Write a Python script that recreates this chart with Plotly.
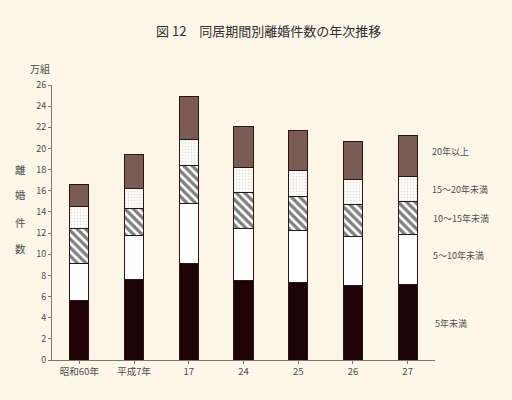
import plotly.graph_objects as go

categories = ["昭和60年", "平成7年", "17", "24", "25", "26", "27"]
lt5 = [5.6, 7.65, 9.08, 7.56, 7.37, 7.0, 7.15]
y5_10 = [3.55, 4.1, 5.75, 4.88, 4.86, 4.66, 4.7]
y10_15 = [3.25, 2.6, 3.52, 3.38, 3.27, 3.08, 3.15]
y15_20 = [2.15, 1.85, 2.5, 2.39, 2.4, 2.34, 2.39]
ge20 = [2.05, 3.2, 4.05, 3.85, 3.8, 3.62, 3.88]
series_names = ["5年未満", "5～10年未満", "10～15年未満", "15～20年未満", "20年以上"]
yticks = list(range(0, 27, 2))

BG = "#fdf6e9"
FONT = "Noto Sans CJK JP"
TXT = "#4d4d4d"
LINE = "#2a1414"

fig = go.Figure()
styles = [
    dict(color="#1e0404", pattern=None),
    dict(color="#ffffff", pattern=None),
    dict(color="#ffffff", pattern=dict(shape="\\", fgcolor="#000000", bgcolor="#ffffff", size=6, solidity=0.55)),
    dict(color="#ffffff", pattern=dict(shape=".", fgcolor="#c4bcb4", bgcolor="#fbfaf6", size=3, solidity=0.15)),
    dict(color="#7b5c55", pattern=None),
]
for name, vals, st in zip(series_names, [lt5, y5_10, y10_15, y15_20, ge20], styles):
    marker = dict(color=st["color"], line=dict(color=LINE, width=1))
    if st["pattern"]:
        marker["pattern"] = st["pattern"]
    fig.add_trace(go.Bar(x=categories, y=vals, name=name, marker=marker, width=0.35))

fig.update_layout(
    barmode="stack",
    width=512, height=400,
    margin=dict(l=52, r=77, t=85, b=40),
    paper_bgcolor=BG, plot_bgcolor=BG,
    showlegend=False,
    font=dict(family=FONT, size=9, color=TXT),
)
fig.update_xaxes(
    showline=True, linecolor="#777777", linewidth=1,
    ticks="outside", ticklen=3, tickcolor="#777777",
    tickfont=dict(size=9.5, color=TXT), showgrid=False,
)
fig.update_yaxes(
    range=[0, 26], tickvals=yticks, showline=True, linecolor="#777777", linewidth=1,
    ticks="outside", ticklen=3, tickcolor="#777777", showgrid=False, zeroline=False,
    tickfont=dict(size=9, color=TXT),
)

fig.add_annotation(text="図 12　同居期間別離婚件数の年次推移", xref="paper", yref="paper",
                   x=(268 - 52) / 383, y=(360 - 30) / 275, showarrow=False,
                   font=dict(size=13, color="#2e2e2e"), xanchor="center", yanchor="middle")
fig.add_annotation(text="万組", xref="paper", yref="paper", x=(40 - 52) / 383, y=(360 - 68) / 275,
                   showarrow=False, font=dict(size=10, color=TXT), xanchor="center", yanchor="middle")
for ch, yy in zip("離婚件数", [169, 194, 222, 248]):
    fig.add_annotation(text=ch, xref="paper", yref="paper", x=(20 - 52) / 383, y=(360 - yy) / 275,
                       showarrow=False, font=dict(size=10.5, color=TXT), xanchor="center", yanchor="middle")
for name, xx, yy in [("20年以上", 430, 151), ("15～20年未満", 430, 189), ("10～15年未満", 431, 218),
                     ("5～10年未満", 431, 255), ("5年未満", 433, 323)]:
    fig.add_annotation(text=name, xref="paper", yref="paper", x=(xx - 52) / 383, y=(360 - yy) / 275,
                       showarrow=False, font=dict(size=9, color=TXT), xanchor="left", yanchor="middle")

fig.write_html("out.html", config={"displayModeBar": False},
               post_script="document.body.style.margin='0';")
